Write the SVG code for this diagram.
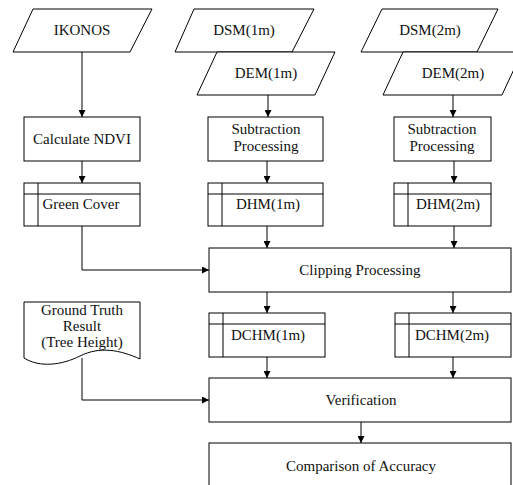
<svg xmlns="http://www.w3.org/2000/svg" width="513" height="485" viewBox="0 0 513 485" font-family="'Liberation Serif', 'Times New Roman', serif" font-size="15">
<style>
.s{fill:#fff;stroke:#000;stroke-width:1}
.l{fill:none;stroke:#000;stroke-width:1}
text{fill:#111;text-anchor:middle}
</style>
<defs>
<marker id="a" viewBox="0 0 10 10" refX="10" refY="5" markerWidth="7" markerHeight="7" markerUnits="userSpaceOnUse" orient="auto"><path d="M0,0L10,5L0,10z" fill="#000"/></marker>
</defs>
<rect width="513" height="485" fill="#fff"/>
<g id="ikonos"><path class="s" d="M33,9H152L130,52H13Z"/><text x="82" y="35">IKONOS</text></g>
<g id="dsm1"><path class="s" d="M194,9H314L292,52H175Z"/><text x="244" y="35">DSM(1m)</text></g>
<g id="dem1"><path class="s" d="M217,52H335L315,95H197Z"/><text x="266" y="78">DEM(1m)</text></g>
<g id="dsm2"><path class="s" d="M382,9H498L477,52H361Z"/><text x="430" y="35">DSM(2m)</text></g>
<g id="dem2"><path class="s" d="M403,52H522L502,95H383Z"/><text x="453" y="78">DEM(2m)</text></g>
<g id="ndvi"><rect class="s" x="24" y="117" width="116" height="44"/><text x="82" y="144">Calculate NDVI</text></g>
<g id="sub1"><rect class="s" x="208" y="117" width="115" height="44"/><text x="266" y="134">Subtraction</text><text x="266" y="151">Processing</text></g>
<g id="sub2"><rect class="s" x="394" y="117" width="97" height="44"/><text x="442" y="134">Subtraction</text><text x="442" y="151">Processing</text></g>
<g id="green"><rect class="s" x="24" y="183" width="116" height="43"/><path class="l" d="M38,183V226M24,194H140"/><text x="81" y="209">Green Cover</text></g>
<g id="dhm1"><rect class="s" x="208" y="183" width="115" height="43"/><path class="l" d="M222,183V226M208,194H323"/><text x="268" y="209">DHM(1m)</text></g>
<g id="dhm2"><rect class="s" x="394" y="183" width="97" height="43"/><path class="l" d="M408,183V226M394,194H491"/><text x="448" y="209">DHM(2m)</text></g>
<g id="clip"><rect class="s" x="209" y="248" width="302" height="44"/><text x="360" y="275">Clipping Processing</text></g>
<g id="truth"><path class="s" d="M24,302H140V359C120,350 100,346 80,356C62,365 40,368 24,358Z"/><text x="82" y="315">Ground Truth</text><text x="82" y="331">Result</text><text x="82" y="347">(Tree Height)</text></g>
<g id="dchm1"><rect class="s" x="209" y="313" width="116" height="44"/><path class="l" d="M223,313V357M209,324H325"/><text x="268" y="340">DCHM(1m)</text></g>
<g id="dchm2"><rect class="s" x="395" y="313" width="116" height="44"/><path class="l" d="M409,313V357M395,324H511"/><text x="452" y="340">DCHM(2m)</text></g>
<g id="verif"><rect class="s" x="209" y="378" width="302" height="44"/><text x="361" y="405">Verification</text></g>
<g id="comp"><rect class="s" x="209" y="443" width="302" height="50"/><text x="361" y="471">Comparison of Accuracy</text></g>
<g id="connectors">
<path class="l" d="M82,52V117" marker-end="url(#a)"/>
<path class="l" d="M268,95V117" marker-end="url(#a)"/>
<path class="l" d="M453,95V117" marker-end="url(#a)"/>
<path class="l" d="M82,161V183" marker-end="url(#a)"/>
<path class="l" d="M267,161V183" marker-end="url(#a)"/>
<path class="l" d="M454,161V183" marker-end="url(#a)"/>
<path class="l" d="M82,226V270H209" marker-end="url(#a)"/>
<path class="l" d="M267,226V248" marker-end="url(#a)"/>
<path class="l" d="M454,226V248" marker-end="url(#a)"/>
<path class="l" d="M267,292V313" marker-end="url(#a)"/>
<path class="l" d="M453,292V313" marker-end="url(#a)"/>
<path class="l" d="M82,358V400H209" marker-end="url(#a)"/>
<path class="l" d="M267,357V378" marker-end="url(#a)"/>
<path class="l" d="M453,357V378" marker-end="url(#a)"/>
<path class="l" d="M361,422V443" marker-end="url(#a)"/>
</g>
</svg>
